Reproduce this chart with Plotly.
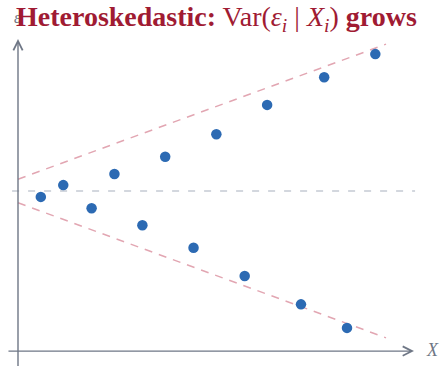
import plotly.graph_objects as go

# data (X, residual)
x_vals = [0.62, 1.23, 2.00, 2.62, 3.38, 4.00, 4.77, 5.39, 6.16, 6.77, 7.69, 8.32, 8.94, 9.71]
y_vals = [-0.16, 0.16, -0.47, 0.46, -0.93, 0.93, -1.54, 1.54, -2.31, 2.34, -3.08, 3.09, -3.72, 3.72]

# envelope lines (endpoints)
band_x = [0.0, 10.0]
band_upper = [0.32, 3.99]
band_lower = [-0.32, -3.99]

# zero reference line
zero_x = [-0.16, 10.79]
zero_y = [0.0, 0.0]

title_html = ("<b>Heteroskedastic:</b> Var(<i>ε</i><sub><i>i</i></sub> | "
              "<i>X</i><sub><i>i</i></sub>) <b>grows</b>")

AX = "#6f7786"
W, H = 441, 366
fig = go.Figure()

fig.add_trace(go.Scatter(x=zero_x, y=zero_y, mode="lines",
                         line=dict(color="#d3d7de", width=2, dash="7px,9px"),
                         hoverinfo="skip", showlegend=False))
fig.add_trace(go.Scatter(x=band_x, y=band_upper, mode="lines",
                         line=dict(color="#e2a6b2", width=1.5, dash="8px,7px"),
                         hoverinfo="skip", showlegend=False))
fig.add_trace(go.Scatter(x=band_x, y=band_lower, mode="lines",
                         line=dict(color="#e2a6b2", width=1.5, dash="8px,7px"),
                         hoverinfo="skip", showlegend=False))
fig.add_trace(go.Scatter(x=x_vals, y=y_vals, mode="markers",
                         marker=dict(color="#2c6ab3", size=10.5, line=dict(width=0)),
                         showlegend=False))

# axes with arrows
fig.add_annotation(x=10.76, y=-4.35, ax=-0.3, ay=-4.35, xref="x", yref="y",
                   axref="x", ayref="y", text="", showarrow=True,
                   arrowhead=5, arrowsize=1.3, arrowwidth=1.4, arrowcolor=AX)
fig.add_annotation(x=0.0, y=4.13, ax=0.0, ay=-4.8, xref="x", yref="y",
                   axref="x", ayref="y", text="", showarrow=True,
                   arrowhead=5, arrowsize=1.3, arrowwidth=1.4, arrowcolor=AX)
fig.add_annotation(x=11.25, y=-4.33, xref="x", yref="y", text="<i>X</i>",
                   showarrow=False, font=dict(family="Liberation Serif", size=18, color=AX))
fig.add_annotation(x=-0.02, y=4.72, xref="x", yref="y", text="<i>ε</i>",
                   showarrow=False, font=dict(family="Liberation Serif", size=16, color=AX))

# title on top
fig.add_annotation(x=216/W, y=(H-19)/H, xref="paper", yref="paper",
                   text=title_html, showarrow=False, xanchor="center", yanchor="middle",
                   font=dict(family="Liberation Serif", size=28, color="#a01b33"))

fig.update_layout(
    width=W, height=H,
    margin=dict(l=0, r=0, t=0, b=0),
    paper_bgcolor="white", plot_bgcolor="white",
    hovermode=False,
    xaxis=dict(range=[-18/36.8, (W-18)/36.8], visible=False, fixedrange=True),
    yaxis=dict(range=[-(H-191)/36.8, 191/36.8], visible=False, fixedrange=True),
)

fig.write_html("out.html",
               config={"displayModeBar": False},
               post_script="document.body.style.margin='0';document.body.style.overflow='hidden';")
